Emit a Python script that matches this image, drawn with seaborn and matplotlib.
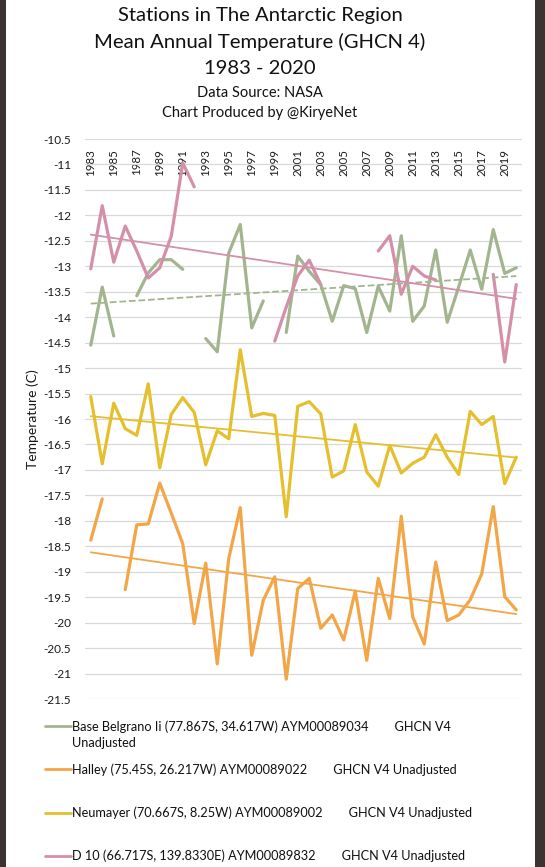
import numpy as np
import pandas as pd
import matplotlib
matplotlib.use('Agg')
import matplotlib.pyplot as plt
from matplotlib.lines import Line2D
from matplotlib.patches import Rectangle
import seaborn as sns

# Years and station values (NaN = missing year)
years = list(range(1983, 2021))

belgrano = [-14.55, -13.41, -14.37, np.nan, -13.58, -13.13, -12.87, -12.87, -13.06, np.nan,
            -14.42, -14.68, -12.74, -12.18, -14.21, -13.68, np.nan, -14.30, -12.80, -13.10,
            -13.36, -14.08, -13.38, -13.44, -14.30, -13.39, -13.88, -12.40, -14.08, -13.78,
            -12.68, -14.10, -13.40, -12.68, -13.45, -12.28, -13.14, -13.03]

halley = [-18.38, -17.57, np.nan, -19.35, -18.08, -18.06, -17.26, -17.85, -18.45, -20.02,
          -18.83, -20.81, -18.74, -17.74, -20.64, -19.56, -19.10, -21.11, -19.33, -19.13,
          -20.11, -19.85, -20.34, -19.38, -20.74, -19.13, -19.92, -17.91, -19.89, -20.42,
          -18.81, -19.96, -19.85, -19.55, -19.04, -17.72, -19.49, -19.75]

neumayer = [-15.56, -16.88, -15.69, -16.19, -16.32, -15.31, -16.96, -15.91, -15.58, -15.87,
            -16.90, -16.23, -16.39, -14.64, -15.95, -15.89, -15.93, -17.92, -15.75, -15.66,
            -15.90, -17.14, -17.02, -16.11, -17.04, -17.32, -16.52, -17.06, -16.87, -16.75,
            -16.31, -16.75, -17.09, -15.85, -16.11, -15.95, -17.27, -16.75]

d10 = [-13.05, -11.81, -12.92, -12.21, -12.70, -13.23, -13.03, -12.41, -10.97, -11.44,
       np.nan, np.nan, np.nan, np.nan, np.nan, np.nan, -14.47, -13.80, -13.19, -12.88,
       -13.36, np.nan, np.nan, np.nan, np.nan, -12.70, -12.40, -13.55, -13.00, -13.19,
       -13.27, np.nan, np.nan, np.nan, np.nan, -13.16, -14.88, -13.36]

labels = [
    'Base Belgrano Ii (77.867S, 34.617W) AYM00089034        GHCN V4',
    'Halley (75.45S, 26.217W) AYM00089022        GHCN V4 Unadjusted',
    'Neumayer (70.667S, 8.25W) AYM00089002        GHCN V4 Unadjusted',
    'D 10 (66.717S, 139.8330E) AYM00089832        GHCN V4 Unadjusted',
]
series = [belgrano, halley, neumayer, d10]
colors = ['#A3B58F', '#F2A647', '#E6BF2E', '#D58FA9']
trend_styles = ['--', '-', '-', '-']

# long table, with a segment id so gaps are not bridged
rows = []
for name, vals in zip(labels, series):
    seg = 0
    prev_nan = True
    for yr, v in zip(years, vals):
        if np.isnan(v):
            prev_nan = True
            continue
        if prev_nan:
            seg += 1
        prev_nan = False
        rows.append({'year': yr, 'temp': v, 'station': name, 'seg': f'{name}_{seg}'})
df = pd.DataFrame(rows)

sns.set_style('white')
plt.rcParams['font.family'] = ['Lato', 'DejaVu Sans']
plt.rcParams['axes.unicode_minus'] = False

fig = plt.figure(figsize=(5.45, 8.67), dpi=100, facecolor='#3c3231')
fig.patches.append(Rectangle((6 / 545, 0), 529 / 545, 1, transform=fig.transFigure,
                             facecolor='white', edgecolor='none', zorder=-1))
ax = fig.add_axes([85 / 545, 1 - 699 / 867, 437 / 545, 560 / 867])
ax.set_facecolor('white')

sns.lineplot(data=df, x='year', y='temp', hue='station', units='seg', estimator=None,
             palette=dict(zip(labels, colors)), linewidth=2.3, legend=False, ax=ax, zorder=3)

# linear trend lines
for name, c, ls in zip(labels, colors, trend_styles):
    sub = df[df['station'] == name]
    sns.regplot(data=sub, x='year', y='temp', scatter=False, ci=None, truncate=True,
                color=c, line_kws={'lw': 1.3, 'ls': ls, 'zorder': 4}, ax=ax)

ax.set_xlim(1982.5, 2020.5)
ax.set_ylim(-21.5, -10.5)
yt = np.arange(-21.5, -10.4, 0.5)
ax.set_yticks(yt)
ax.set_yticklabels([f'{v:g}' for v in yt], fontsize=8.5, color='#1a1a1a')
ax.set_xticks(years[::2])
ax.set_xticklabels([str(y) for y in years[::2]], rotation=90, fontsize=8.3, color='#1a1a1a', va='top')
ax.xaxis.tick_top()
ax.tick_params(axis='x', length=0, pad=-7)
ax.tick_params(axis='y', length=0, pad=10)
ax.grid(axis='y', color='#d9d9d9', lw=0.9)
ax.grid(axis='x', visible=False)
for s in ax.spines.values():
    s.set_visible(False)
ax.set_xlabel('')
ax.set_ylabel('Temperature (C)', fontsize=10, color='#1a1a1a', labelpad=3)

# titles
tx = 260 / 545
fig.text(tx, 1 - 16 / 867, 'Stations in The Antarctic Region', ha='center', va='center', fontsize=14.6, color='#111111')
fig.text(tx, 1 - 42 / 867, 'Mean Annual Temperature (GHCN 4)', ha='center', va='center', fontsize=14.6, color='#111111')
fig.text(tx, 1 - 68 / 867, '1983 - 2020', ha='center', va='center', fontsize=14.6, color='#111111')
fig.text(tx, 1 - 93 / 867, 'Data Source: NASA', ha='center', va='center', fontsize=10.5, color='#111111')
fig.text(tx, 1 - 113 / 867, 'Chart Produced by @KiryeNet', ha='center', va='center', fontsize=10.5, color='#111111')

# legend
handles = [Line2D([], [], color=c, lw=2) for c in colors]
fig.legend(handles, labels, loc='upper left', bbox_to_anchor=(45 / 545, 1 - 720 / 867),
           frameon=False, fontsize=9.2, handlelength=2.0, handletextpad=0.15,
           labelspacing=2.4, borderpad=0, borderaxespad=0, labelcolor='#111111')
fig.text(72 / 545, 1 - 743 / 867, 'Unadjusted', ha='left', va='center', fontsize=9.2, color='#111111')

fig.savefig('out.png', dpi=100, facecolor=fig.get_facecolor())
